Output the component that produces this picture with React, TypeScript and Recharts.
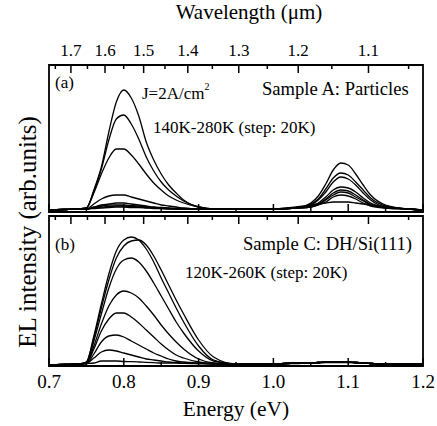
import { LineChart, Line, XAxis, YAxis, ReferenceArea, ReferenceLine } from "recharts";

// photon energy grid (eV)
const energy = [
  0.7, 0.72, 0.74, 0.75, 0.76, 0.77, 0.78, 0.79, 0.8, 0.81, 0.82, 0.83, 0.84,
  0.85, 0.86, 0.87, 0.88, 0.9, 0.92, 0.95, 1.0, 1.03, 1.05, 1.06, 1.07, 1.08,
  1.09, 1.1, 1.11, 1.12, 1.13, 1.15, 1.18, 1.2,
];

// Sample A: Particles, 140K-280K
const a140 = [2, 2.5, 3, 4, 22, 45, 80, 110, 122, 114, 96, 70, 52, 38, 27, 19, 12, 5, 3, 3, 3, 4, 9, 16, 28, 42, 49, 47, 38, 27, 17, 7, 3, 2];
const a160 = [2, 2.5, 3, 4, 21, 43, 72, 93, 97, 88, 73, 55, 41, 30, 22, 16, 11, 5, 3, 3, 3, 4, 8, 13, 23, 34, 39, 37, 30, 22, 14, 6, 3, 2];
const a180 = [2, 2.5, 3, 4, 19, 38, 54, 63, 63, 57, 48, 38, 29, 22, 16, 12, 9, 5, 3, 3, 3, 4, 7, 12, 20, 30, 35, 33, 27, 19, 12, 5, 3, 2];
const a200 = [2, 2.5, 3, 3, 8, 13, 16, 17, 17, 15, 13, 11, 9, 7, 6, 5, 4, 3, 3, 3, 3, 4, 6, 9, 15, 22, 25, 24, 20, 14, 9, 5, 3, 2];
const a220 = [2, 2.5, 3, 3, 5, 7, 8, 9, 9, 8, 7, 6, 5, 4.5, 4, 3.5, 3.5, 3, 3, 3, 3, 4, 5, 8, 13, 19, 22, 21, 17, 12, 8, 4, 3, 2];
const a240 = [2, 2.5, 3, 3, 4.5, 6, 7, 7, 7, 6.5, 6, 5, 4.5, 4, 3.5, 3.5, 3, 3, 3, 3, 3, 4, 5, 7, 12, 17, 20, 19, 15, 11, 7, 4, 3, 2];
const a260 = [2, 2.5, 3, 3, 4, 5, 5.5, 6, 6, 5.5, 5, 4.5, 4, 3.5, 3.5, 3, 3, 3, 3, 3, 3, 4, 5, 7, 10, 15, 17, 16, 13, 9, 6, 4, 3, 2];
const a280 = [2, 2.5, 3, 3, 3.5, 4, 4.5, 5, 5, 4.5, 4.5, 4, 3.5, 3.5, 3, 3, 3, 3, 3, 3, 3, 5, 7, 8, 9, 10, 10, 10, 9, 8, 7, 5, 3, 2];

// Sample C: DH/Si(111), 120K-260K
const b120 = [1, 1.5, 2, 4, 30, 62, 92, 115, 126, 129, 126, 117, 104, 88, 73, 58, 44, 20, 6, 2, 2, 3, 3, 3.5, 4, 4, 4, 4, 3.5, 3, 2.5, 2, 2, 2];
const b140 = [1, 1.5, 2, 4, 28, 58, 86, 108, 120, 125, 126, 121, 110, 96, 81, 66, 52, 26, 9, 2, 2, 3, 3, 3.5, 4, 4, 4, 4, 3.5, 3, 2.5, 2, 2, 2];
const b160 = [1, 1.5, 2, 3, 25, 52, 78, 97, 106, 108, 104, 95, 83, 70, 57, 44, 33, 15, 5, 2, 2, 3, 3, 3.5, 4, 4, 4, 4, 3.5, 3, 2.5, 2, 2, 2];
const b180 = [1, 1.5, 2, 3, 20, 42, 60, 71, 75, 73, 68, 60, 51, 41, 32, 24, 17, 7, 3, 2, 2, 3, 3, 3.5, 4, 4, 4, 4, 3.5, 3, 2.5, 2, 2, 2];
const b200 = [1, 1.5, 2, 3, 17, 35, 47, 53, 53, 49, 43, 36, 29, 22, 16, 11, 8, 4, 2.5, 2, 2, 3, 3, 3.5, 4, 4, 4, 4, 3.5, 3, 2.5, 2, 2, 2];
const b220 = [1, 1.5, 2, 2.5, 12, 24, 30, 31, 29, 25, 21, 17, 13, 10, 7, 5, 4, 3, 2.5, 2, 2, 3, 3, 3.5, 4, 4, 4, 4, 3.5, 3, 2.5, 2, 2, 2];
const b240 = [1, 1.5, 2, 2.5, 8, 14, 16, 15, 13, 11, 9, 7, 6, 5, 4, 3.5, 3, 2.5, 2, 2, 2, 3, 3, 3.5, 4, 4, 4, 4, 3.5, 3, 2.5, 2, 2, 2];
const b260 = [1, 1.5, 2, 2.5, 3, 5, 5, 5, 4.5, 4.3, 4, 3.6, 3.3, 3, 3, 2.8, 2.6, 2.4, 2, 2, 2, 2.5, 3, 3, 3.5, 3.5, 3.5, 3.5, 3, 2.8, 2.5, 2, 2, 2];

// axis ticks
const energyTicks = [0.7, 0.75, 0.8, 0.85, 0.9, 0.95, 1.0, 1.05, 1.1, 1.15, 1.2];
const wavelengthTicks = [1.75, 1.7, 1.65, 1.6, 1.55, 1.5, 1.45, 1.4, 1.35, 1.3, 1.25, 1.2, 1.15, 1.1, 1.05];

const HC = 1.2398; // eV·µm
const FONT = "'Liberation Serif', 'DejaVu Serif', 'Noto Serif', serif";

const seriesA = [a140, a160, a180, a200, a220, a240, a260, a280];
const seriesB = [b120, b140, b160, b180, b200, b220, b240, b260];

const buildRows = (series: number[][]) =>
  energy.map((e, i) => {
    const row: Record<string, number> = { e };
    series.forEach((s, k) => (row[`s${k}`] = s[i]));
    return row;
  });

const rowsA = buildRows(seriesA);
const rowsB = buildRows(seriesB);

const txt = (size: number) => ({ fontFamily: FONT, fontSize: size });
const isMajorE = (v: number) => Math.abs(v * 10 - Math.round(v * 10)) < 1e-6;
const isMajorW = (w: number) => Math.round(w * 100) % 10 === 0;

const energyLabel = (show: boolean) => (props: any) => {
  const { x, y, payload } = props;
  const v = payload.value;
  if (!show || !isMajorE(v)) return <g />;
  return (
    <text x={x} y={y + 22} textAnchor="middle" style={txt(19)} fill="#000">
      {v.toFixed(1)}
    </text>
  );
};

const wavelengthLabel = (show: boolean) => (props: any) => {
  const { x, y, payload } = props;
  const w = HC / payload.value;
  if (!show || !isMajorW(w)) return <g />;
  return (
    <text x={x} y={y - 9} textAnchor="middle" style={txt(17)} fill="#000">
      {w.toFixed(1)}
    </text>
  );
};

function Panel({
  rows,
  yMax,
  top,
  bottom,
  topLabels,
  bottomLabels,
}: {
  rows: Record<string, number>[];
  yMax: number;
  top: number;
  bottom: number;
  topLabels: boolean;
  bottomLabels: boolean;
}) {
  // y units are pixels here (yMax = plot height), so tick lengths read as px
  return (
    <div style={{ position: "absolute", left: 0, top: 0 }}>
      <LineChart
        width={437}
        height={426}
        data={rows}
        margin={{ top: top - 1, right: 14, bottom: 426 - bottom - 1, left: 49 }}
      >
        <XAxis
          xAxisId="e"
          dataKey="e"
          type="number"
          domain={[0.7, 1.2]}
          ticks={energyTicks}
          interval={0}
          allowDataOverflow
          height={1}
          tickSize={0}
          tickMargin={0}
          axisLine={false}
          tickLine={false}
          tick={energyLabel(bottomLabels)}
        />
        <XAxis
          xAxisId="wl"
          dataKey="e"
          orientation="top"
          type="number"
          domain={[0.7, 1.2]}
          ticks={wavelengthTicks.map((w) => HC / w)}
          interval={0}
          allowDataOverflow
          height={1}
          tickSize={0}
          tickMargin={0}
          axisLine={false}
          tickLine={false}
          tick={wavelengthLabel(topLabels)}
        />
        <YAxis yAxisId="l" type="number" domain={[0, yMax]} hide width={0} allowDataOverflow />
        <ReferenceArea
          xAxisId="e"
          yAxisId="l"
          x1={0.7}
          x2={1.2}
          y1={0}
          y2={yMax}
          fill="none"
          stroke="#000"
          strokeWidth={1.8}
        />
        {/* inward tick marks: energy at the bottom, wavelength at the top */}
        {energyTicks.map((v) => (
          <ReferenceLine
            key={`et${v}`}
            xAxisId="e"
            yAxisId="l"
            segment={[
              { x: v, y: 0 },
              { x: v, y: isMajorE(v) ? 8 : 4 },
            ]}
            stroke="#000"
            strokeWidth={1.5}
          />
        ))}
        {wavelengthTicks.map((w) => (
          <ReferenceLine
            key={`wt${w}`}
            xAxisId="e"
            yAxisId="l"
            segment={[
              { x: HC / w, y: yMax },
              { x: HC / w, y: yMax - (isMajorW(w) ? 8 : 4) },
            ]}
            stroke="#000"
            strokeWidth={1.5}
          />
        ))}
        {/* invisible series that gives the wavelength axis its scale */}
        <Line
          xAxisId="wl"
          yAxisId="l"
          dataKey="s0"
          dot={false}
          stroke="transparent"
          strokeWidth={0}
          isAnimationActive={false}
        />
        {seriesA.map((_, k) => (
          <Line
            key={k}
            xAxisId="e"
            yAxisId="l"
            dataKey={`s${k}`}
            type="monotone"
            dot={false}
            stroke="#000"
            strokeWidth={1.3}
            isAnimationActive={false}
          />
        ))}
      </LineChart>
    </div>
  );
}

export default function App() {
  return (
    <div
      style={{
        position: "absolute",
        left: 0,
        top: 0,
        width: 437,
        height: 426,
        background: "#fff",
        overflow: "hidden",
        fontFamily: FONT,
      }}
    >
      <Panel rows={rowsA} yMax={147} top={65} bottom={212} topLabels={true} bottomLabels={false} />
      <Panel rows={rowsB} yMax={150} top={216} bottom={366} topLabels={false} bottomLabels={true} />
      <svg
        width={437}
        height={426}
        style={{ position: "absolute", left: 0, top: 0, pointerEvents: "none" }}
        fill="#000"
      >
        <text x={249} y={19} textAnchor="middle" style={txt(21)}>
          Wavelength (μm)
        </text>
        <text x={236} y={416} textAnchor="middle" style={txt(21.5)}>
          Energy (eV)
        </text>
        <text x={36} y={232} textAnchor="middle" style={txt(25)} transform="rotate(-90 36 232)">
          EL intensity (arb.units)
        </text>
        <text x={55} y={88} style={txt(17)}>(a)</text>
        <text x={142} y={99} style={txt(17)}>
          J=2A/cm<tspan dy={-9} style={txt(10)}>2</tspan>
        </text>
        <text x={153} y={133} style={txt(17)}>140K-280K (step: 20K)</text>
        <text x={262} y={95} style={txt(18.6)}>Sample A: Particles</text>
        <text x={55} y={250} style={txt(17)}>(b)</text>
        <text x={243} y={250} style={txt(18.6)}>Sample C: DH/Si(111)</text>
        <text x={185} y={278} style={txt(17)}>120K-260K (step: 20K)</text>
      </svg>
    </div>
  );
}
